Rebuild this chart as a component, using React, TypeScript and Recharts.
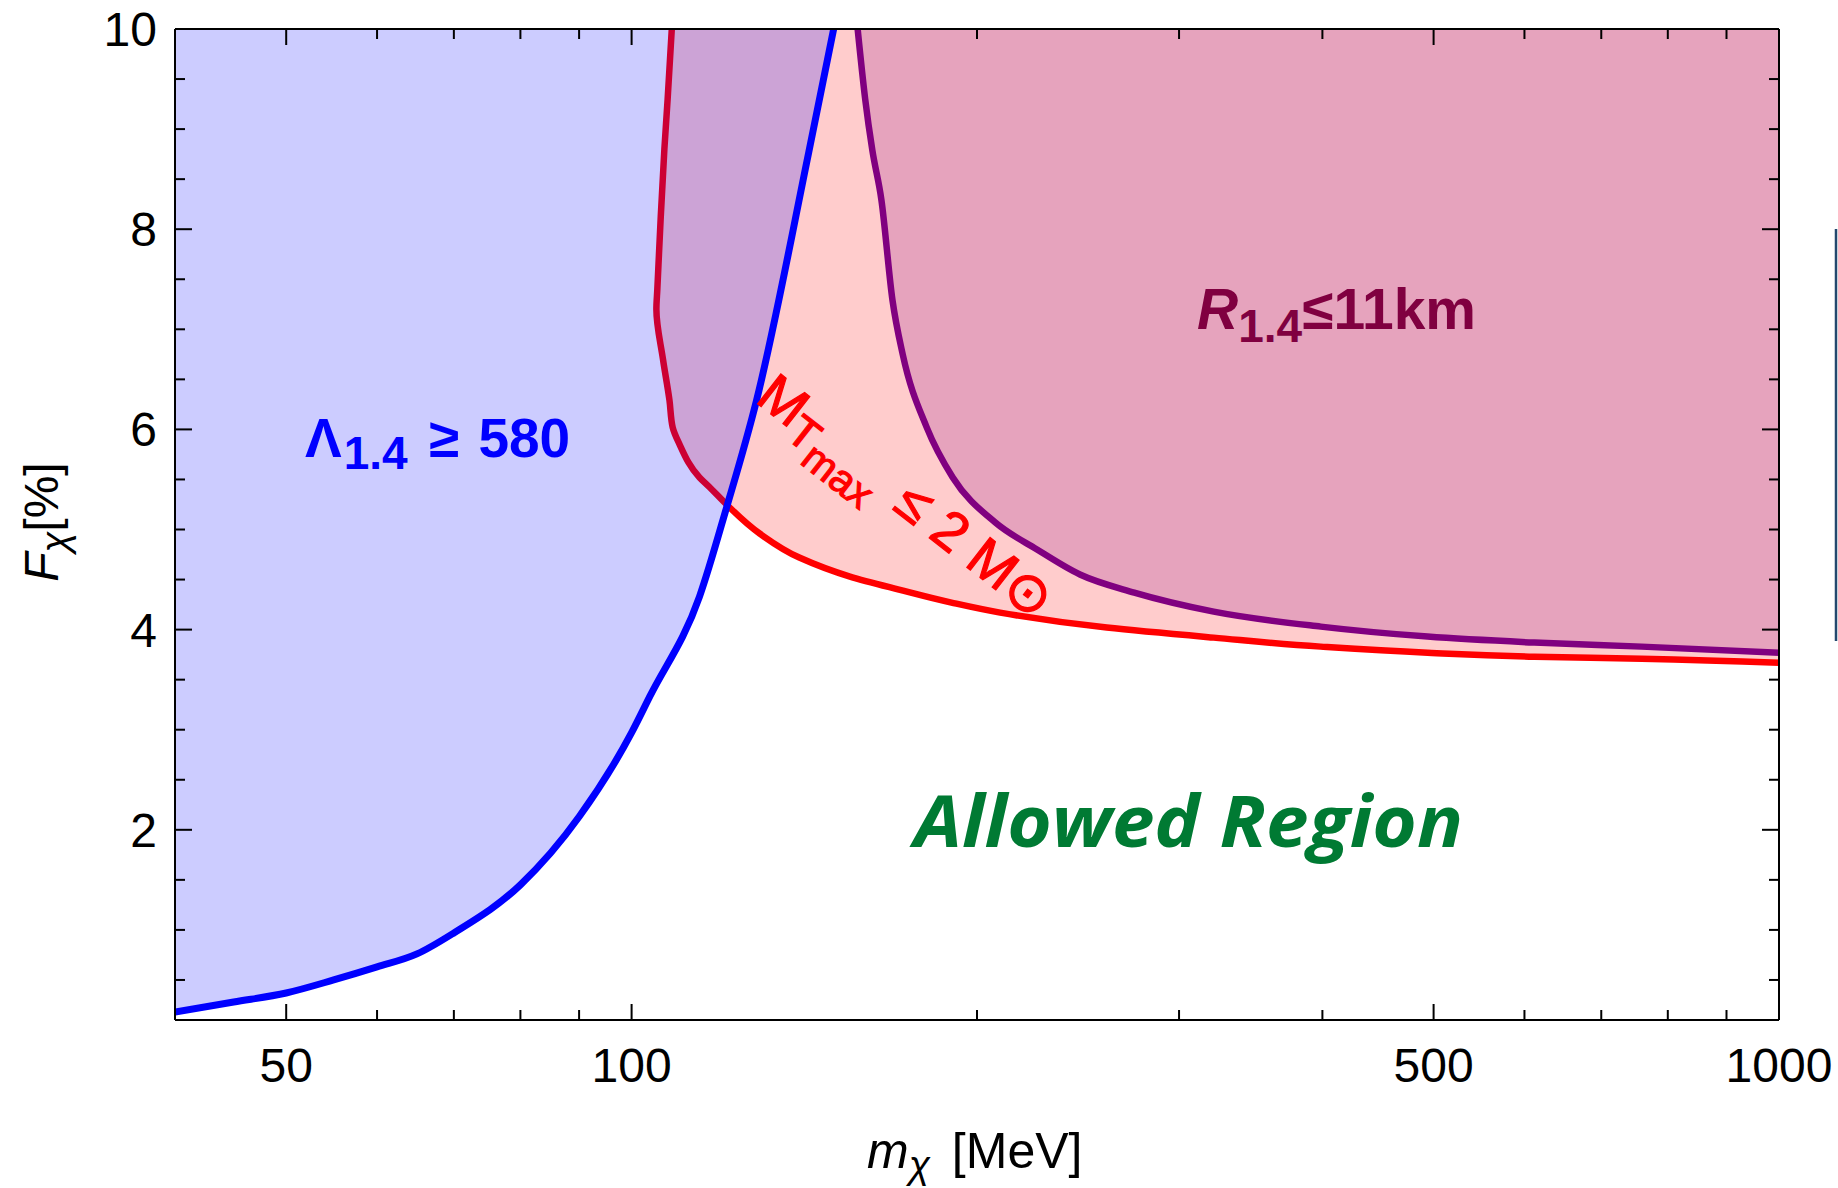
import React from 'react';
import { ComposedChart, Area, XAxis, YAxis } from 'recharts';

// Dark-matter mass (MeV) on a log axis, fraction F_chi (%) on a linear axis
const massTicks = [50, 60, 70, 80, 90, 100, 200, 300, 400, 500, 600, 700, 800, 900, 1000];
const massLabels = [50, 100, 500, 1000];
const fracTicks = [0.5, 1, 1.5, 2, 2.5, 3, 3.5, 4, 4.5, 5, 5.5, 6, 6.5, 7, 7.5, 8, 8.5, 9, 9.5, 10];
const fracLabels = [2, 4, 6, 8, 10];

// Tidal deformability bound: Lambda_1.4 >= 580 (excluded above the curve)
const lambdaBound = [
  { m: 40, f: 0.18 },
  { m: 45, f: 0.28 },
  { m: 50, f: 0.37 },
  { m: 55, f: 0.5 },
  { m: 60, f: 0.63 },
  { m: 65, f: 0.76 },
  { m: 70, f: 0.97 },
  { m: 80, f: 1.45 },
  { m: 90, f: 2.13 },
  { m: 100, f: 2.97 },
  { m: 103.7, f: 3.33 },
  { m: 114.6, f: 4.33 },
  { m: 121, f: 5.22 },
  { m: 128.5, f: 6.29 },
  { m: 142.7, f: 8.77 },
  { m: 150, f: 10 },
];

// Maximum mass bound: M_Tmax <= 2 M_sun (F decreases monotonically along the path)
const massBound = [
  { m: 108.4, f: 10 },
  { m: 107.5, f: 9.3 },
  { m: 106.8, f: 8.8 },
  { m: 106, f: 8.1 },
  { m: 105.3, f: 7.4 },
  { m: 105.1, f: 7.2 },
  { m: 106.5, f: 6.7 },
  { m: 107.9, f: 6.29 },
  { m: 108.6, f: 6.02 },
  { m: 110, f: 5.86 },
  { m: 114.6, f: 5.52 },
  { m: 117, f: 5.42 },
  { m: 121, f: 5.25 },
  { m: 129.3, f: 4.96 },
  { m: 140, f: 4.72 },
  { m: 155, f: 4.53 },
  { m: 171, f: 4.4 },
  { m: 190, f: 4.27 },
  { m: 209.5, f: 4.17 },
  { m: 259.5, f: 4.02 },
  { m: 321.6, f: 3.92 },
  { m: 398.7, f: 3.83 },
  { m: 494, f: 3.77 },
  { m: 612, f: 3.73 },
  { m: 759, f: 3.71 },
  { m: 1000, f: 3.67 },
];

// Radius bound: R_1.4 <= 11 km
const radiusBound = [
  { m: 157.4, f: 10 },
  { m: 159.8, f: 9.3 },
  { m: 162.1, f: 8.79 },
  { m: 165.1, f: 8.29 },
  { m: 168.8, f: 7.29 },
  { m: 172.3, f: 6.75 },
  { m: 180.8, f: 6.02 },
  { m: 190.5, f: 5.52 },
  { m: 207.5, f: 5.07 },
  { m: 225.6, f: 4.8 },
  { m: 245.9, f: 4.55 },
  { m: 274.2, f: 4.37 },
  { m: 321.6, f: 4.18 },
  { m: 398.7, f: 4.03 },
  { m: 494, f: 3.93 },
  { m: 612, f: 3.87 },
  { m: 759, f: 3.83 },
  { m: 1000, f: 3.77 },
];

const FONT = '"Liberation Sans", Arial, sans-serif';
const TICK_FONT_SIZE = 48;
const WIDTH = 1838;
const HEIGHT = 1188;

const BottomTick = (props: any) => {
  const { x, y, payload } = props;
  const major = massLabels.includes(payload.value);
  return (
    <g>
      <line x1={x} x2={x} y1={y} y2={y - (major ? 16 : 10)} stroke="#000" strokeWidth={2} />
      {major && (
        <text x={x} y={y + 62} textAnchor="middle" fontFamily={FONT} fontSize={TICK_FONT_SIZE} fill="#000">
          {payload.value}
        </text>
      )}
    </g>
  );
};

const TopTick = (props: any) => {
  const { x, y, payload } = props;
  const major = massLabels.includes(payload.value);
  return <line x1={x} x2={x} y1={y} y2={y + (major ? 16 : 10)} stroke="#000" strokeWidth={2} />;
};

const LeftTick = (props: any) => {
  const { x, y, payload } = props;
  const major = fracLabels.includes(payload.value);
  return (
    <g>
      <line x1={x} x2={x + (major ? 17 : 10)} y1={y} y2={y} stroke="#000" strokeWidth={2} />
      {major && (
        <text x={x - 18} y={y + 17} textAnchor="end" fontFamily={FONT} fontSize={TICK_FONT_SIZE} fill="#000">
          {payload.value}
        </text>
      )}
    </g>
  );
};

const RightTick = (props: any) => {
  const { x, y, payload } = props;
  const major = fracLabels.includes(payload.value);
  return <line x1={x} x2={x - (major ? 17 : 10)} y1={y} y2={y} stroke="#000" strokeWidth={2} />;
};

const frame = { stroke: '#000', strokeWidth: 2 };

export default function App() {
  return (
    <div style={{ position: 'relative', width: WIDTH, height: HEIGHT }}>
      <style>{'html, body { margin: 0; padding: 0; overflow: hidden; }'}</style>
      <ComposedChart width={WIDTH} height={HEIGHT} margin={{ top: 28, left: 174, right: 58, bottom: 167 }}>
        <Area
          data={massBound}
          dataKey="f"
          type="monotoneY"
          baseValue={10}
          stroke="#FF0000"
          strokeWidth={6.5}
          fill="#FF0000"
          fillOpacity={0.2}
          strokeLinejoin="round"
          dot={false}
          activeDot={false}
          isAnimationActive={false}
        />
        <Area
          data={lambdaBound}
          dataKey="f"
          type="monotoneX"
          baseValue={10}
          stroke="#0000FF"
          strokeWidth={7}
          fill="#0000FF"
          fillOpacity={0.2}
          strokeLinejoin="round"
          dot={false}
          activeDot={false}
          isAnimationActive={false}
        />
        <Area
          data={radiusBound}
          dataKey="f"
          type="monotoneX"
          baseValue={10}
          stroke="#800080"
          strokeWidth={6.5}
          fill="#800080"
          fillOpacity={0.2}
          strokeLinejoin="round"
          dot={false}
          activeDot={false}
          isAnimationActive={false}
        />
        <XAxis
          type="number"
          dataKey="m"
          scale="log"
          domain={[40, 1000]}
          allowDataOverflow
          ticks={massTicks}
          interval={0}
          tick={BottomTick}
          tickLine={false}
          tickSize={0}
          tickMargin={0}
          axisLine={frame}
          height={1}
        />
        <XAxis
          xAxisId="top"
          orientation="top"
          type="number"
          dataKey="m"
          scale="log"
          domain={[40, 1000]}
          allowDataOverflow
          ticks={massTicks}
          interval={0}
          tick={TopTick}
          tickLine={false}
          tickSize={0}
          tickMargin={0}
          axisLine={frame}
          height={1}
        />
        <YAxis
          type="number"
          domain={[0.1, 10]}
          allowDataOverflow
          ticks={fracTicks}
          interval={0}
          tick={LeftTick}
          tickLine={false}
          tickSize={0}
          tickMargin={0}
          axisLine={frame}
          width={1}
        />
        <YAxis
          yAxisId="right"
          orientation="right"
          type="number"
          domain={[0.1, 10]}
          allowDataOverflow
          ticks={fracTicks}
          interval={0}
          tick={RightTick}
          tickLine={false}
          tickSize={0}
          tickMargin={0}
          axisLine={frame}
          width={1}
        />
      </ComposedChart>
      <svg
        width={WIDTH}
        height={HEIGHT}
        style={{ position: 'absolute', left: 0, top: 0, pointerEvents: 'none' }}
      >
        {/* axis titles */}
        <text x={867} y={1168} fontFamily={FONT} fontSize={50} fill="#000">
          <tspan fontStyle="italic">m</tspan>
          <tspan fontStyle="italic" fontSize={39} dy={10}>χ</tspan>
          <tspan dy={-10} dx={8}> [MeV]</tspan>
        </text>
        <text
          transform="rotate(-90 58 522)"
          x={58}
          y={522}
          textAnchor="middle"
          fontFamily={FONT}
          fontSize={48}
          fill="#000"
        >
          <tspan fontStyle="italic">F</tspan>
          <tspan fontStyle="italic" fontSize={38} dy={10}>χ</tspan>
          <tspan dy={-10}>[%]</tspan>
        </text>

        {/* region annotations */}
        <text x={305} y={457} fontFamily={FONT} fontWeight="bold" fontSize={55} fill="#0000FF">
          Λ
          <tspan fontSize={46} dy={12} dx={2}>1.4</tspan>
          <tspan dy={-12} dx={6}> ≥ </tspan>
          <tspan dx={4}>580</tspan>
        </text>
        <text x={1197} y={329} fontFamily={FONT} fontWeight="bold" fontSize={57} fill="#800040">
          <tspan fontStyle="italic">R</tspan>
          <tspan fontSize={46} dy={13}>1.4</tspan>
          <tspan dy={-13}>≤11km</tspan>
        </text>
        <text
          x={914}
          y={847}
          fontFamily='"Open Sans", sans-serif'
          fontStyle="italic"
          fontWeight={700}
          fontSize={72}
          fill="#007A33"
          textLength={549}
          lengthAdjust="spacingAndGlyphs"
        >
          Allowed Region
        </text>
        <text
          transform="rotate(38 754 401)"
          x={754}
          y={401}
          fontFamily={FONT}
          fontSize={55}
          fill="#FF0000"
          stroke="#FF0000"
          strokeWidth={1.2}
        >
          M
          <tspan fontSize={45} dy={10}>T</tspan>
          <tspan fontSize={41} dy={11}>max</tspan>
          <tspan fontSize={55} dy={-21} dx={8}> ≤ 2 M⊙</tspan>
        </text>

        {/* edge of the neighbouring legend panel */}
        <line x1={1836} x2={1836} y1={229} y2={641} stroke="#24486E" strokeWidth={2.5} />
      </svg>
    </div>
  );
}
